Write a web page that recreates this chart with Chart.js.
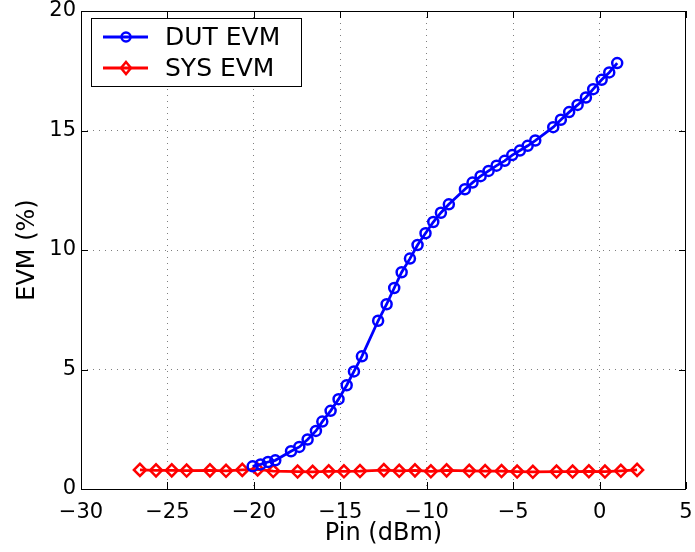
<!DOCTYPE html>
<html>
<head>
<meta charset="utf-8">
<script src="https://cdn.jsdelivr.net/npm/chart.js@4/dist/chart.umd.min.js"></script>
<style>
  html, body { margin: 0; padding: 0; background: #fff; }
  canvas { display: block; }
</style>
</head>
<body>
<canvas id="evmChart" width="695" height="552"></canvas>
<script>
// data
const dutX = [-20.07, -19.61, -19.18, -18.76, -17.85, -17.37, -16.89, -16.41, -16.04, -15.56,
  -15.10, -14.63, -14.21, -13.75, -12.81, -12.32, -11.88, -11.45, -10.97, -10.53,
  -10.07, -9.62, -9.18, -8.72, -7.79, -7.35, -6.88, -6.42, -5.96, -5.49,
  -5.05, -4.61, -4.16, -3.72, -2.68, -2.24, -1.76, -1.27, -0.79, -0.37,
  0.12, 0.56, 1.02];
const dutY = [0.95, 1.03, 1.13, 1.20, 1.58, 1.76, 2.07, 2.43, 2.82, 3.27,
  3.76, 4.34, 4.92, 5.55, 7.04, 7.73, 8.41, 9.07, 9.64, 10.21,
  10.70, 11.17, 11.56, 11.91, 12.54, 12.82, 13.09, 13.31, 13.53, 13.73,
  13.97, 14.16, 14.36, 14.58, 15.14, 15.45, 15.77, 16.07, 16.38, 16.73,
  17.12, 17.43, 17.82];
const sysX = [-26.59, -25.66, -24.75, -23.89, -22.54, -21.61, -20.67, -19.78, -18.88, -17.47,
  -16.60, -15.67, -14.79, -13.86, -12.48, -11.59, -10.68, -9.76, -8.85, -7.54,
  -6.62, -5.67, -4.77, -3.86, -2.49, -1.56, -0.62, 0.31, 1.23, 2.17];
const sysY = [0.80, 0.78, 0.78, 0.77, 0.78, 0.76, 0.80, 0.82, 0.75, 0.73,
  0.72, 0.74, 0.74, 0.75, 0.79, 0.76, 0.78, 0.74, 0.78, 0.76,
  0.75, 0.75, 0.73, 0.72, 0.73, 0.73, 0.74, 0.73, 0.76, 0.80];
const seriesNames = ["DUT EVM", "SYS EVM"];
const xTitle = "Pin (dBm)";
const yTitle = "EVM (%)";

const FONT = "'DejaVu Sans', sans-serif";
const toPts = (xs, ys) => xs.map((x, i) => ({ x, y: ys[i] }));
const minus = (v) => String(v).replace("-", "\u2212");

// ── frame, inward ticks and legend (MATLAB look)
const framePlugin = {
  id: "frame",
  afterDraw(chart) {
    const { ctx, chartArea: a, scales } = chart;
    ctx.save();
    ctx.strokeStyle = "#000";
    ctx.lineWidth = 1;
    ctx.strokeRect(a.left + 0.5, a.top + 0.5, a.right - a.left - 1, a.bottom - a.top);
    const tl = 7;
    ctx.beginPath();
    scales.x.ticks.forEach((t) => {
      const px = Math.round(scales.x.getPixelForValue(t.value)) + 0.5;
      ctx.moveTo(px, a.bottom); ctx.lineTo(px, a.bottom - tl);
      ctx.moveTo(px, a.top); ctx.lineTo(px, a.top + tl);
    });
    scales.y.ticks.forEach((t) => {
      const py = Math.round(scales.y.getPixelForValue(t.value)) + 0.5;
      ctx.moveTo(a.left, py); ctx.lineTo(a.left + tl, py);
      ctx.moveTo(a.right, py); ctx.lineTo(a.right - tl, py);
    });
    ctx.stroke();

    // legend
    const lx = a.left + 10, ly = a.top + 7, lw = 210, lh = 68;
    ctx.fillStyle = "#fff";
    ctx.fillRect(lx, ly, lw, lh);
    ctx.strokeRect(lx + 0.5, ly + 0.5, lw, lh);
    const rows = [
      { name: seriesNames[0], color: "#0000ff", style: "circle", y: ly + 19 },
      { name: seriesNames[1], color: "#ff0000", style: "diamond", y: ly + 50 },
    ];
    rows.forEach((r) => {
      ctx.strokeStyle = r.color;
      ctx.lineWidth = 2.8;
      ctx.beginPath();
      ctx.moveTo(lx + 12, r.y); ctx.lineTo(lx + 57, r.y);
      ctx.stroke();
      ctx.lineWidth = 2.5;
      ctx.beginPath();
      const cx = lx + 35;
      if (r.style === "circle") {
        ctx.arc(cx, r.y, 4.5, 0, Math.PI * 2);
      } else {
        ctx.moveTo(cx, r.y - 6); ctx.lineTo(cx + 5, r.y);
        ctx.lineTo(cx, r.y + 6); ctx.lineTo(cx - 5, r.y); ctx.closePath();
      }
      ctx.stroke();
      ctx.fillStyle = "#000";
      ctx.font = "25px " + FONT;
      ctx.textBaseline = "middle";
      ctx.textAlign = "left";
      ctx.fillText(r.name, lx + 74, r.y + 1);
    });
    ctx.restore();
  },
};

const gridColor = (ctx) => {
  const s = ctx.scale;
  if (!ctx.tick || ctx.tick.value === s.min || ctx.tick.value === s.max) return "rgba(0,0,0,0)";
  return "rgba(0,0,0,0.5)";
};

new Chart(document.getElementById("evmChart").getContext("2d"), {
  type: "scatter",
  data: {
    datasets: [
      {
        label: seriesNames[0],
        data: toPts(dutX, dutY),
        showLine: true,
        borderColor: "#0000ff",
        borderWidth: 2.8,
        backgroundColor: "rgba(0,0,0,0)",
        pointStyle: "circle",
        pointRadius: 5,
        pointBorderWidth: 2.5,
        pointBorderColor: "#0000ff",
        pointBackgroundColor: "rgba(0,0,0,0)",
        tension: 0,
      },
      {
        label: seriesNames[1],
        data: toPts(sysX, sysY),
        showLine: true,
        borderColor: "#ff0000",
        borderWidth: 2.8,
        backgroundColor: "rgba(0,0,0,0)",
        pointStyle: "rectRot",
        pointRadius: 6,
        pointBorderWidth: 2.5,
        pointBorderColor: "#ff0000",
        pointBackgroundColor: "rgba(0,0,0,0)",
        tension: 0,
      },
    ],
  },
  options: {
    responsive: false,
    animation: false,
    layout: { padding: { left: 0, right: 9, top: 11, bottom: 0 } },
    plugins: { legend: { display: false }, tooltip: { enabled: false } },
    scales: {
      x: {
        type: "linear",
        min: -30,
        max: 5,
        afterFit: (s) => { s.height = 63; s.paddingLeft = 0; s.paddingRight = 0; },
        ticks: {
          stepSize: 5,
          color: "#000",
          padding: 11,
          font: { family: FONT, size: 21 },
          callback: minus,
        },
        grid: { color: gridColor, drawTicks: false, lineWidth: 1 },
        border: { display: false, dash: [1, 5] },
        title: {
          display: true,
          text: xTitle,
          color: "#000",
          font: { family: FONT, size: 24 },
          padding: { top: 0, bottom: 4 },
        },
      },
      y: {
        min: 0,
        max: 20,
        afterFit: (s) => { s.width = 81; s.paddingTop = 0; s.paddingBottom = 0; },
        ticks: {
          stepSize: 5,
          color: "#000",
          padding: 5,
          font: { family: FONT, size: 21 },
          callback: minus,
        },
        grid: { color: gridColor, drawTicks: false, lineWidth: 1 },
        border: { display: false, dash: [1, 5] },
        title: {
          display: true,
          text: yTitle,
          color: "#000",
          font: { family: FONT, size: 24 },
          padding: { top: 13, bottom: 0 },
        },
      },
    },
  },
  plugins: [framePlugin],
});
</script>
</body>
</html>
